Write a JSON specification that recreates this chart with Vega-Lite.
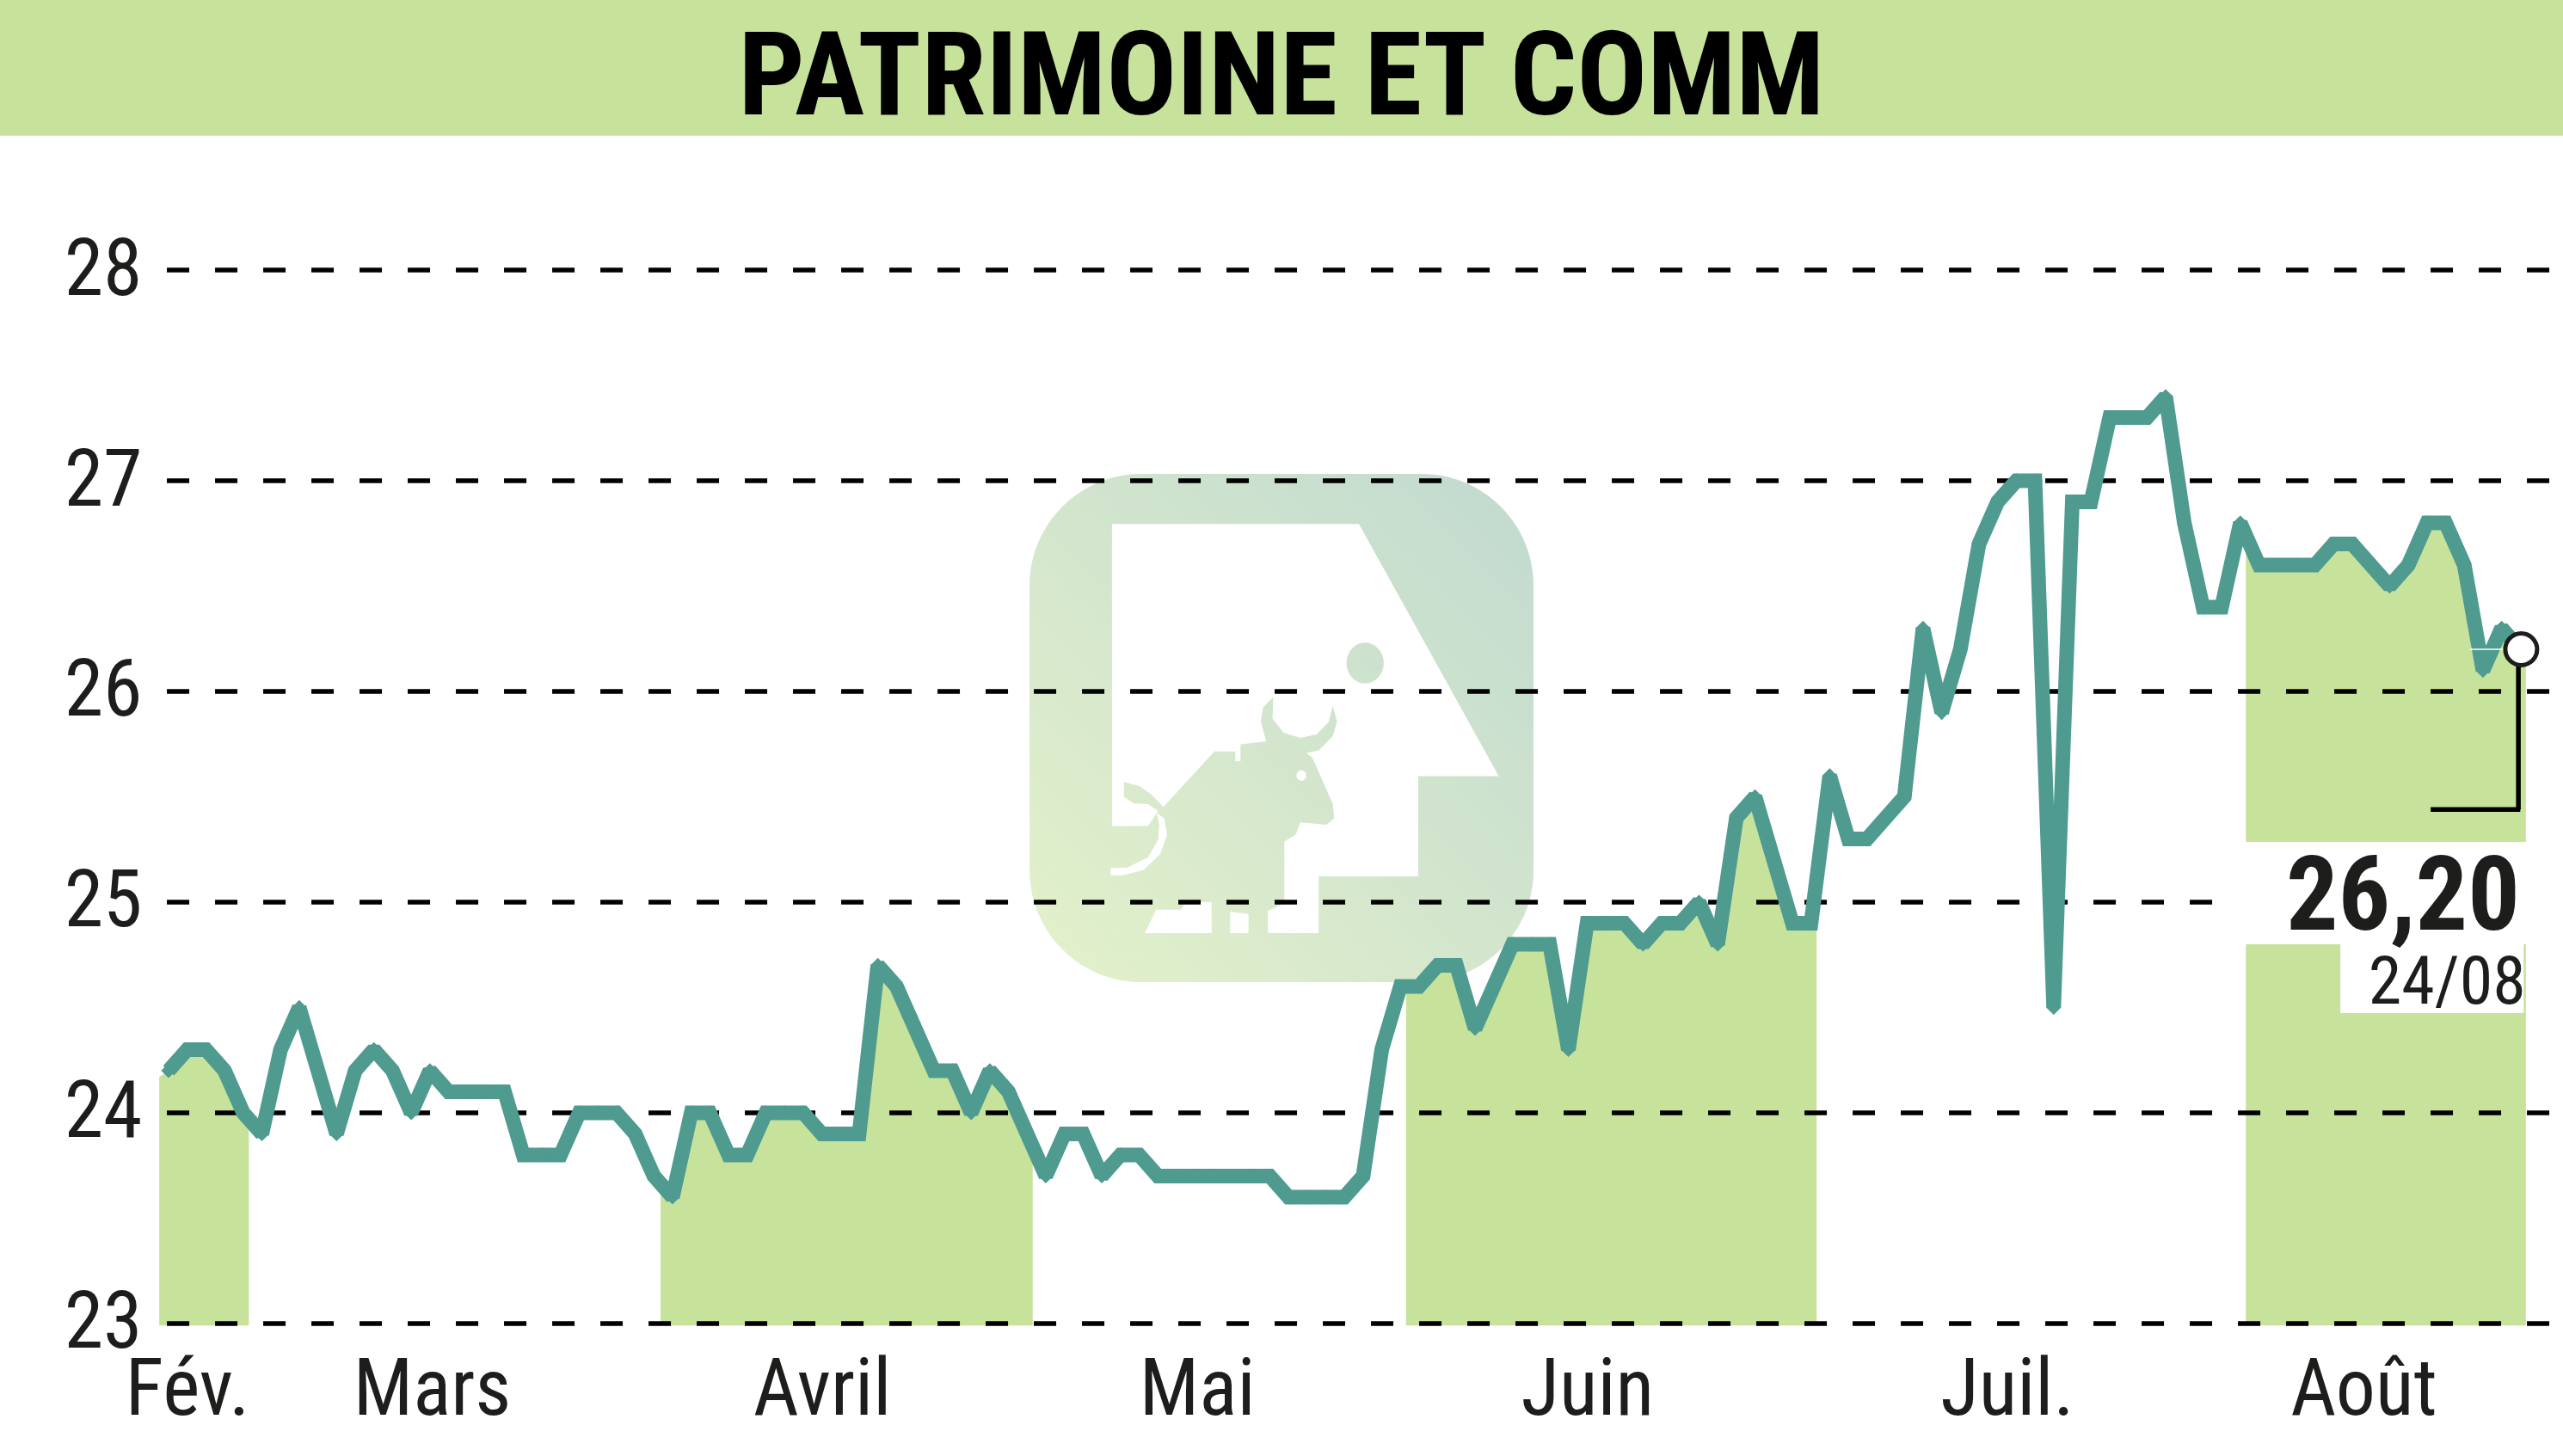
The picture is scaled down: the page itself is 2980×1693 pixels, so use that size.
{
  "$schema": "https://vega.github.io/schema/vega-lite/v6.json",
  "width": 2980,
  "height": 1693,
  "autosize": "none",
  "padding": 0,
  "background": "white",
  "config": {"view": {"stroke": null}},
  "data": {"values": [{}]},
  "datasets": {
    "grid": [{"level": 23}, {"level": 24}, {"level": 25}, {"level": 26}, {"level": 27}, {"level": 28}],
    "cours": [
      {"day": -0.5, "v": 24.17, "m": "Fév.", "edge": true},
      {"day": 0, "v": 24.2, "m": "Fév."}, {"day": 1, "v": 24.3, "m": "Fév."}, {"day": 2, "v": 24.3, "m": "Fév."},
      {"day": 3, "v": 24.2, "m": "Fév."}, {"day": 4, "v": 24.0, "m": "Fév."},
      {"day": 4.3, "v": 23.97, "m": "Fév.", "edge": true},
      {"day": 5, "v": 23.9}, {"day": 6, "v": 24.3}, {"day": 7, "v": 24.5}, {"day": 8, "v": 24.2}, {"day": 9, "v": 23.9},
      {"day": 10, "v": 24.2}, {"day": 11, "v": 24.3}, {"day": 12, "v": 24.2}, {"day": 13, "v": 24.0}, {"day": 14, "v": 24.2},
      {"day": 15, "v": 24.1}, {"day": 16, "v": 24.1}, {"day": 17, "v": 24.1}, {"day": 18, "v": 24.1}, {"day": 19, "v": 23.8},
      {"day": 20, "v": 23.8}, {"day": 21, "v": 23.8}, {"day": 22, "v": 24.0}, {"day": 23, "v": 24.0}, {"day": 24, "v": 24.0},
      {"day": 25, "v": 23.9}, {"day": 26, "v": 23.7},
      {"day": 26.36, "v": 23.66, "m": "Avril", "edge": true},
      {"day": 27, "v": 23.6, "m": "Avril"}, {"day": 28, "v": 24.0, "m": "Avril"}, {"day": 29, "v": 24.0, "m": "Avril"},
      {"day": 30, "v": 23.8, "m": "Avril"}, {"day": 31, "v": 23.8, "m": "Avril"}, {"day": 32, "v": 24.0, "m": "Avril"},
      {"day": 33, "v": 24.0, "m": "Avril"}, {"day": 34, "v": 24.0, "m": "Avril"}, {"day": 35, "v": 23.9, "m": "Avril"},
      {"day": 36, "v": 23.9, "m": "Avril"}, {"day": 37, "v": 23.9, "m": "Avril"}, {"day": 38, "v": 24.7, "m": "Avril"},
      {"day": 39, "v": 24.6, "m": "Avril"}, {"day": 40, "v": 24.4, "m": "Avril"}, {"day": 41, "v": 24.2, "m": "Avril"},
      {"day": 42, "v": 24.2, "m": "Avril"}, {"day": 43, "v": 24.0, "m": "Avril"}, {"day": 44, "v": 24.2, "m": "Avril"},
      {"day": 45, "v": 24.1, "m": "Avril"}, {"day": 46, "v": 23.9, "m": "Avril"},
      {"day": 46.3, "v": 23.84, "m": "Avril", "edge": true},
      {"day": 47, "v": 23.7}, {"day": 48, "v": 23.9}, {"day": 49, "v": 23.9}, {"day": 50, "v": 23.7}, {"day": 51, "v": 23.8},
      {"day": 52, "v": 23.8}, {"day": 53, "v": 23.7}, {"day": 54, "v": 23.7}, {"day": 55, "v": 23.7}, {"day": 56, "v": 23.7},
      {"day": 57, "v": 23.7}, {"day": 58, "v": 23.7}, {"day": 59, "v": 23.7}, {"day": 60, "v": 23.6}, {"day": 61, "v": 23.6},
      {"day": 62, "v": 23.6}, {"day": 63, "v": 23.6}, {"day": 64, "v": 23.7}, {"day": 65, "v": 24.3}, {"day": 66, "v": 24.6},
      {"day": 66.3, "v": 24.6, "m": "Juin", "edge": true},
      {"day": 67, "v": 24.6, "m": "Juin"}, {"day": 68, "v": 24.7, "m": "Juin"}, {"day": 69, "v": 24.7, "m": "Juin"},
      {"day": 70, "v": 24.4, "m": "Juin"}, {"day": 71, "v": 24.6, "m": "Juin"}, {"day": 72, "v": 24.8, "m": "Juin"},
      {"day": 73, "v": 24.8, "m": "Juin"}, {"day": 74, "v": 24.8, "m": "Juin"}, {"day": 75, "v": 24.3, "m": "Juin"},
      {"day": 76, "v": 24.9, "m": "Juin"}, {"day": 77, "v": 24.9, "m": "Juin"}, {"day": 78, "v": 24.9, "m": "Juin"},
      {"day": 79, "v": 24.8, "m": "Juin"}, {"day": 80, "v": 24.9, "m": "Juin"}, {"day": 81, "v": 24.9, "m": "Juin"},
      {"day": 82, "v": 25.0, "m": "Juin"}, {"day": 83, "v": 24.8, "m": "Juin"}, {"day": 84, "v": 25.4, "m": "Juin"},
      {"day": 85, "v": 25.5, "m": "Juin"}, {"day": 86, "v": 25.2, "m": "Juin"}, {"day": 87, "v": 24.9, "m": "Juin"},
      {"day": 88, "v": 24.9, "m": "Juin"},
      {"day": 88.3, "v": 25.1, "m": "Juin", "edge": true},
      {"day": 89, "v": 25.6}, {"day": 90, "v": 25.3}, {"day": 91, "v": 25.3}, {"day": 92, "v": 25.4}, {"day": 93, "v": 25.5},
      {"day": 94, "v": 26.3}, {"day": 95, "v": 25.9}, {"day": 96, "v": 26.2}, {"day": 97, "v": 26.7}, {"day": 98, "v": 26.9},
      {"day": 99, "v": 27.0}, {"day": 100, "v": 27.0}, {"day": 101, "v": 24.5}, {"day": 102, "v": 26.9}, {"day": 103, "v": 26.9},
      {"day": 104, "v": 27.3}, {"day": 105, "v": 27.3}, {"day": 106, "v": 27.3}, {"day": 107, "v": 27.4}, {"day": 108, "v": 26.8},
      {"day": 109, "v": 26.4}, {"day": 110, "v": 26.4}, {"day": 111, "v": 26.8},
      {"day": 111.3, "v": 26.74, "m": "Août", "edge": true},
      {"day": 112, "v": 26.6, "m": "Août"}, {"day": 113, "v": 26.6, "m": "Août"}, {"day": 114, "v": 26.6, "m": "Août"},
      {"day": 115, "v": 26.6, "m": "Août"}, {"day": 116, "v": 26.7, "m": "Août"}, {"day": 117, "v": 26.7, "m": "Août"},
      {"day": 118, "v": 26.6, "m": "Août"}, {"day": 119, "v": 26.5, "m": "Août"}, {"day": 120, "v": 26.6, "m": "Août"},
      {"day": 121, "v": 26.8, "m": "Août"}, {"day": 122, "v": 26.8, "m": "Août"}, {"day": 123, "v": 26.6, "m": "Août"},
      {"day": 124, "v": 26.1, "m": "Août"}, {"day": 125, "v": 26.3, "m": "Août"}, {"day": 126, "v": 26.2, "m": "Août"},
      {"day": 126.3, "v": 26.18, "m": "Août", "edge": true}
    ]
  },
  "encoding": {
    "x": {
      "type": "quantitative",
      "scale": {"domain": [-9.032, 128.29], "nice": false, "zero": false},
      "axis": {
        "title": null,
        "values": [1, 14.1, 35, 55.1, 76, 98.5, 117.6],
        "labelExpr": "{'1':'Fév.','14.1':'Mars','35':'Avril','55.1':'Mai','76':'Juin','98.5':'Juil.','117.6':'Août'}[datum.value]",
        "offset": -122,
        "domain": false,
        "ticks": false,
        "grid": false,
        "labelPadding": 0,
        "labelLimit": 500,
        "labelFont": "Roboto Condensed",
        "labelFontSize": 92,
        "labelColor": "#1d1d1b"
      }
    },
    "y": {
      "type": "quantitative",
      "scale": {"domain": [22.371, 29.282], "nice": false, "zero": false},
      "axis": {
        "title": null,
        "values": [23, 24, 25, 26, 27, 28],
        "offset": -165,
        "domain": false,
        "ticks": false,
        "grid": false,
        "labelPadding": 0,
        "labelFont": "Roboto Condensed",
        "labelFontSize": 92,
        "labelColor": "#1d1d1b"
      }
    }
  },
  "layer": [
    {
      "mark": {"type": "rect", "color": "#c7e29b"},
      "encoding": {
        "x": {"datum": -9.032},
        "x2": {"datum": 128.29},
        "y": {"datum": 29.282},
        "y2": {"datum": 28.638}
      }
    },
    {
      "mark": {
        "type": "rect",
        "cornerRadius": 130,
        "fill": {
          "gradient": "linear", "x1": 0, "y1": 1, "x2": 1, "y2": 0,
          "stops": [{"offset": 0, "color": "#e4f1ca"}, {"offset": 1, "color": "#c1dad0"}]
        }
      },
      "encoding": {
        "x": {"datum": 46.13},
        "x2": {"datum": 73.13},
        "y": {"datum": 27.033},
        "y2": {"datum": 24.62}
      }
    },
    {
      "mark": {
        "type": "point",
        "filled": true,
        "fill": "white",
        "opacity": 1,
        "size": 360000,
        "shape": "M-.657,-.789L.3,-.789L.842,.189L.53,.189L.53,.577L.144,.577L.144,.797L-.053,.797L-.053,.711L.011,.681L.011,.442L.056,.414L.072,.368L.175,.377L.204,.352L.199,.297L.12,.117L.096,.099L.144,.089L.199,.034L.215,-.022L.199,-.084L.183,-.022L.136,.027L.072,.04L.008,.02L-.035,-.035L-.032,-.118L-.072,-.077L-.08,-.022L-.059,.054L-.159,.065L-.159,.131L-.179,.131L-.179,.093L-.26,.093L-.458,.308L-.502,.262L-.55,.227L-.611,.211L-.611,.269L-.574,.294L-.518,.297L-.478,.324L-.518,.382L-.657,.382ZM.252,-.25A.072,.079,0,1,0,.396,-.25A.072,.079,0,1,0,.252,-.25ZM.058,.186A.019,.02,0,1,1,.096,.186A.019,.02,0,1,1,.058,.186ZM-.662,.545L-.598,.543L-.518,.504L-.478,.435L-.474,.379L-.483,.331L-.455,.352L-.443,.414L-.47,.49L-.534,.552L-.614,.573L-.662,.573ZM-.53,.797L-.486,.706L-.388,.706L-.375,.677L-.271,.677L-.271,.797ZM-.199,.714L-.128,.723L-.128,.797L-.199,.797Z"
      },
      "encoding": {
        "x": {"datum": 59.63},
        "y": {"datum": 25.829}
      }
    },
    {
      "data": {"name": "cours"},
      "transform": [{"filter": "datum.m != null"}],
      "mark": {"type": "area", "color": "#c7e29b", "opacity": 1},
      "encoding": {
        "x": {"field": "day"},
        "y": {"field": "v"},
        "y2": {"datum": 22.99},
        "detail": {"field": "m"}
      }
    },
    {
      "data": {"name": "grid"},
      "mark": {"type": "rule", "color": "black", "strokeWidth": 5.5, "strokeDash": [26, 30]},
      "encoding": {
        "x": {"datum": -0.09},
        "x2": {"datum": 128.29},
        "y": {"field": "level"}
      }
    },
    {
      "mark": {"type": "rect", "color": "white"},
      "encoding": {
        "x": {"datum": 110.3},
        "x2": {"datum": 127.6},
        "y": {"datum": 25.286},
        "y2": {"datum": 24.8}
      }
    },
    {
      "mark": {"type": "rect", "color": "white"},
      "encoding": {
        "x": {"datum": 116.36},
        "x2": {"datum": 126.18},
        "y": {"datum": 24.8},
        "y2": {"datum": 24.473}
      }
    },
    {
      "data": {"name": "cours"},
      "transform": [{"filter": "!datum.edge"}],
      "mark": {
        "type": "line",
        "color": "#4f9b90",
        "strokeWidth": 17,
        "strokeJoin": "miter",
        "strokeMiterLimit": 1.5,
        "point": {"filled": true, "shape": "diamond", "size": 300, "color": "#4f9b90"}
      },
      "encoding": {
        "x": {"field": "day"},
        "y": {"field": "v"}
      }
    },
    {
      "mark": {"type": "rule", "color": "white", "strokeWidth": 1.5},
      "encoding": {
        "x": {"datum": 123.3},
        "x2": {"datum": 125.3},
        "y": {"datum": 26.2}
      }
    },
    {
      "mark": {"type": "rule", "color": "black", "strokeWidth": 5.5},
      "encoding": {
        "x": {"datum": 125.9},
        "y": {"datum": 26.2},
        "y2": {"datum": 25.44}
      }
    },
    {
      "mark": {"type": "rule", "color": "black", "strokeWidth": 5.5},
      "encoding": {
        "x": {"datum": 121.2},
        "x2": {"datum": 126},
        "y": {"datum": 25.44}
      }
    },
    {
      "mark": {"type": "point", "filled": true, "fill": "white", "opacity": 1, "stroke": "#1d1d1b", "strokeWidth": 5, "shape": "circle", "size": 1369},
      "encoding": {
        "x": {"datum": 126.05},
        "y": {"datum": 26.2}
      }
    },
    {
      "mark": {"type": "text", "text": "PATRIMOINE ET COMM", "font": "Roboto Condensed", "fontWeight": "bold", "fontSize": 136, "color": "black", "align": "center", "baseline": "alphabetic"},
      "encoding": {
        "x": {"datum": 59.63},
        "y": {"datum": 28.74}
      }
    },
    {
      "mark": {"type": "text", "text": "26,20", "font": "Roboto Condensed", "fontWeight": "bold", "fontSize": 120, "color": "#1d1d1b", "align": "right", "baseline": "alphabetic"},
      "encoding": {
        "x": {"datum": 125.98},
        "y": {"datum": 24.869}
      }
    },
    {
      "mark": {"type": "text", "text": "24/08", "font": "Roboto Condensed", "fontSize": 78, "color": "#1d1d1b", "align": "right", "baseline": "alphabetic"},
      "encoding": {
        "x": {"datum": 126.3},
        "y": {"datum": 24.518}
      }
    }
  ]
}
